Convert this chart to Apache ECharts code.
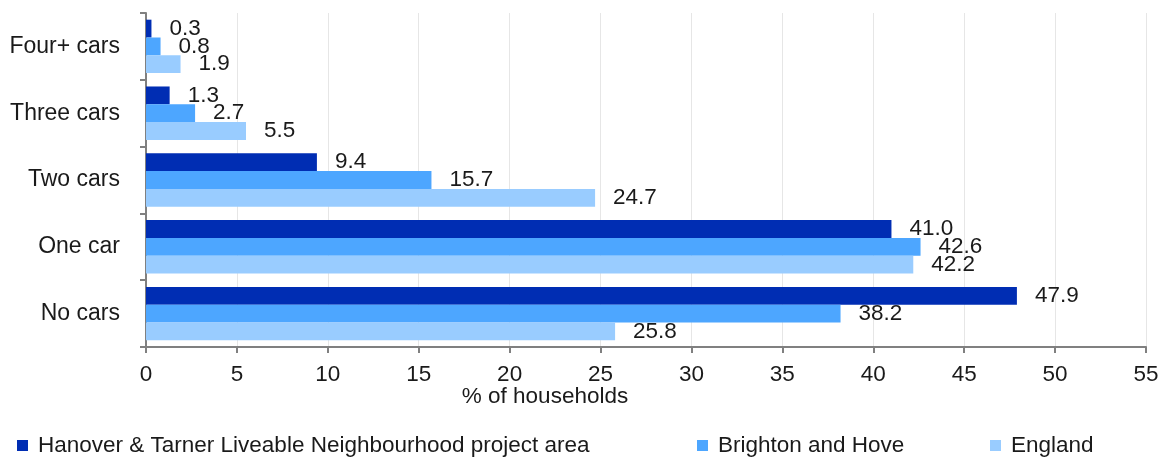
<!DOCTYPE html>
<html>
<head>
<meta charset="utf-8">
<script src="https://cdn.jsdelivr.net/npm/echarts@6/dist/echarts.min.js"></script>
<style>
  html, body { margin: 0; padding: 0; background: #fff; }
  #chart { width: 1169px; height: 460px; }
</style>
</head>
<body>
<div id="chart"></div>
<script>
// categories, top to bottom
const categories = ['Four+ cars', 'Three cars', 'Two cars', 'One car', 'No cars']
const hanover = [0.3, 1.3, 9.4, 41.0, 47.9]
const brighton = [0.8, 2.7, 15.7, 42.6, 38.2]
const england = [1.9, 5.5, 24.7, 42.2, 25.8]
const seriesNames = [
  'Hanover & Tarner Liveable Neighbourhood project area',
  'Brighton and Hove',
  'England'
]
const colors = ['#002db3', '#4da6ff', '#99ccff']

const font = 'Liberation Sans, Arial, sans-serif'
const textColor = '#1a1a1a'

const chart = echarts.init(document.getElementById('chart'))

function makeSeries(name, data, color) {
  return {
    name: name,
    type: 'bar',
    data: data,
    itemStyle: { color: color },
    barGap: '0%',
    barCategoryGap: '20%',
    label: {
      show: true,
      position: 'right',
      distance: 18,
      color: textColor,
      fontFamily: font,
      fontSize: 22.5,
      formatter: p => p.value.toFixed(1)
    }
  }
}

function makeLegend(name, left) {
  return {
    data: [name],
    left: left,
    top: 429,
    icon: 'rect',
    itemWidth: 11,
    itemHeight: 11,
    itemGap: 10,
    textStyle: { fontFamily: font, fontSize: 22.5, color: textColor, padding: [0, 0, 0, 5] }
  }
}

const options = {
  animation: false,
  grid: {
    left: 146,
    right: 23,
    top: 13,
    bottom: 113
  },
  legend: [
    makeLegend(seriesNames[0], 12),
    makeLegend(seriesNames[1], 692),
    makeLegend(seriesNames[2], 985)
  ],
  xAxis: {
    type: 'value',
    min: 0,
    max: 55,
    interval: 5,
    name: '% of households',
    nameLocation: 'middle',
    nameGap: 38,
    nameMoveOverlap: false,
    nameTextStyle: { fontFamily: font, fontSize: 22.5, color: textColor, padding: [0, 202, 0, 0] },
    axisLine: { show: true, lineStyle: { color: '#808080', width: 2 } },
    axisTick: { show: true, length: 6, lineStyle: { color: '#808080', width: 2 } },
    axisLabel: { fontFamily: font, fontSize: 22.5, color: textColor, margin: 16 },
    splitLine: { show: true, lineStyle: { color: '#e6e6e6', width: 1 } }
  },
  yAxis: {
    type: 'category',
    inverse: true,
    data: categories,
    axisLine: { show: true, lineStyle: { color: '#808080', width: 2 } },
    axisTick: { show: true, length: 6, lineStyle: { color: '#808080', width: 2 } },
    axisLabel: { fontFamily: font, fontSize: 23, color: textColor, margin: 26 }
  },
  series: [
    makeSeries(seriesNames[0], hanover, colors[0]),
    makeSeries(seriesNames[1], brighton, colors[1]),
    makeSeries(seriesNames[2], england, colors[2])
  ]
}

chart.setOption(options, true)
</script>
</body>
</html>
